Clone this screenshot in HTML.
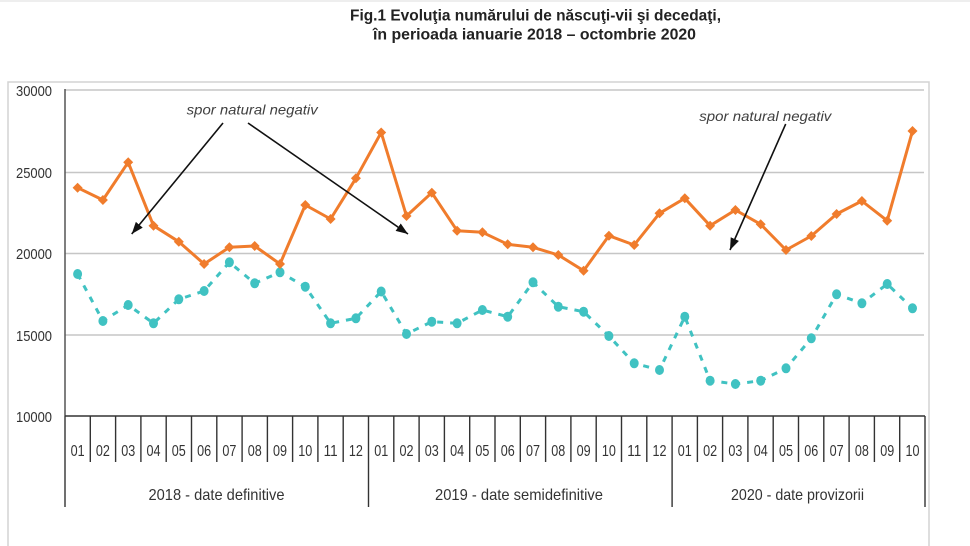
<!DOCTYPE html>
<html><head><meta charset="utf-8"><style>
html,body{margin:0;padding:0;background:#fff;width:970px;height:546px;overflow:hidden;}
svg{display:block;}
text{font-family:"Liberation Sans",sans-serif;}
</style></head><body>
<svg width="970" height="546" viewBox="0 0 970 546" xmlns="http://www.w3.org/2000/svg">
<defs>
<marker id="dia" markerUnits="userSpaceOnUse" markerWidth="12" markerHeight="12" refX="6" refY="6" orient="0">
<path d="M6,1 L11,6 L6,11 L1,6 Z" fill="#F07C2C"/>
</marker>
<marker id="dot" markerUnits="userSpaceOnUse" markerWidth="12" markerHeight="12" refX="6" refY="6" orient="0">
<ellipse cx="6" cy="6" rx="4.5" ry="5" fill="#40C2C2"/>
</marker>
<marker id="arr" markerUnits="userSpaceOnUse" markerWidth="14" markerHeight="10" refX="12" refY="4.5" orient="auto">
<path d="M0,0 L12,4.5 L0,9 Z" fill="#111"/>
</marker>
</defs>
<rect x="0" y="0" width="970" height="2" fill="#eeeeee"/>
<!-- outer frame -->
<path d="M8,546 L8,82 L929,82 L929,546" fill="none" stroke="#d4d4d4" stroke-width="1.5"/>
<!-- title -->
<text x="535.5" y="20.5" text-anchor="middle" font-size="16" font-weight="bold" fill="#222" textLength="371" lengthAdjust="spacingAndGlyphs">Fig.1 Evoluţia numărului de născuţi-vii şi decedaţi,</text>
<text x="534.5" y="39.5" text-anchor="middle" font-size="16" font-weight="bold" fill="#222" textLength="323" lengthAdjust="spacingAndGlyphs">în perioada ianuarie 2018 – octombrie 2020</text>
<!-- gridlines -->
<g stroke="#c6c6c6" stroke-width="1.4">
<line x1="65" y1="90" x2="924" y2="90"/>
<line x1="65" y1="172.5" x2="924" y2="172.5"/>
<line x1="65" y1="253.5" x2="924" y2="253.5"/>
<line x1="65" y1="335" x2="924" y2="335"/>
</g>
<!-- y axis labels -->
<g font-size="15" fill="#333" text-anchor="end">
<text x="52" y="96" textLength="36" lengthAdjust="spacingAndGlyphs">30000</text>
<text x="52" y="178" textLength="36" lengthAdjust="spacingAndGlyphs">25000</text>
<text x="52" y="259" textLength="36" lengthAdjust="spacingAndGlyphs">20000</text>
<text x="52" y="341" textLength="36" lengthAdjust="spacingAndGlyphs">15000</text>
<text x="52" y="422" textLength="36" lengthAdjust="spacingAndGlyphs">10000</text>
</g>
<!-- axes -->
<line x1="65" y1="89" x2="65" y2="416" stroke="#555" stroke-width="1.5"/>
<line x1="65" y1="416" x2="925" y2="416" stroke="#333" stroke-width="1.6"/>
<!-- month separators -->
<g stroke="#333" stroke-width="1.4">
<line x1="65" y1="416" x2="65" y2="507"/>
<line x1="90.3" y1="416" x2="90.3" y2="462"/>
<line x1="115.6" y1="416" x2="115.6" y2="462"/>
<line x1="140.9" y1="416" x2="140.9" y2="462"/>
<line x1="166.2" y1="416" x2="166.2" y2="462"/>
<line x1="191.5" y1="416" x2="191.5" y2="462"/>
<line x1="216.8" y1="416" x2="216.8" y2="462"/>
<line x1="242.1" y1="416" x2="242.1" y2="462"/>
<line x1="267.4" y1="416" x2="267.4" y2="462"/>
<line x1="292.6" y1="416" x2="292.6" y2="462"/>
<line x1="317.9" y1="416" x2="317.9" y2="462"/>
<line x1="343.2" y1="416" x2="343.2" y2="462"/>
<line x1="368.5" y1="416" x2="368.5" y2="507"/>
<line x1="393.8" y1="416" x2="393.8" y2="462"/>
<line x1="419.1" y1="416" x2="419.1" y2="462"/>
<line x1="444.4" y1="416" x2="444.4" y2="462"/>
<line x1="469.7" y1="416" x2="469.7" y2="462"/>
<line x1="495.0" y1="416" x2="495.0" y2="462"/>
<line x1="520.3" y1="416" x2="520.3" y2="462"/>
<line x1="545.6" y1="416" x2="545.6" y2="462"/>
<line x1="570.9" y1="416" x2="570.9" y2="462"/>
<line x1="596.2" y1="416" x2="596.2" y2="462"/>
<line x1="621.5" y1="416" x2="621.5" y2="462"/>
<line x1="646.8" y1="416" x2="646.8" y2="462"/>
<line x1="672.1" y1="416" x2="672.1" y2="507"/>
<line x1="697.4" y1="416" x2="697.4" y2="462"/>
<line x1="722.6" y1="416" x2="722.6" y2="462"/>
<line x1="747.9" y1="416" x2="747.9" y2="462"/>
<line x1="773.2" y1="416" x2="773.2" y2="462"/>
<line x1="798.5" y1="416" x2="798.5" y2="462"/>
<line x1="823.8" y1="416" x2="823.8" y2="462"/>
<line x1="849.1" y1="416" x2="849.1" y2="462"/>
<line x1="874.4" y1="416" x2="874.4" y2="462"/>
<line x1="899.7" y1="416" x2="899.7" y2="462"/>
<line x1="925" y1="416" x2="925" y2="507"/>
</g>
<!-- month labels -->
<g font-size="16" fill="#333" text-anchor="middle">
<text x="77.6" y="456" textLength="14" lengthAdjust="spacingAndGlyphs">01</text>
<text x="102.9" y="456" textLength="14" lengthAdjust="spacingAndGlyphs">02</text>
<text x="128.2" y="456" textLength="14" lengthAdjust="spacingAndGlyphs">03</text>
<text x="153.5" y="456" textLength="14" lengthAdjust="spacingAndGlyphs">04</text>
<text x="178.8" y="456" textLength="14" lengthAdjust="spacingAndGlyphs">05</text>
<text x="204.1" y="456" textLength="14" lengthAdjust="spacingAndGlyphs">06</text>
<text x="229.4" y="456" textLength="14" lengthAdjust="spacingAndGlyphs">07</text>
<text x="254.7" y="456" textLength="14" lengthAdjust="spacingAndGlyphs">08</text>
<text x="280.0" y="456" textLength="14" lengthAdjust="spacingAndGlyphs">09</text>
<text x="305.3" y="456" textLength="14" lengthAdjust="spacingAndGlyphs">10</text>
<text x="330.6" y="456" textLength="14" lengthAdjust="spacingAndGlyphs">11</text>
<text x="355.9" y="456" textLength="14" lengthAdjust="spacingAndGlyphs">12</text>
<text x="381.2" y="456" textLength="14" lengthAdjust="spacingAndGlyphs">01</text>
<text x="406.5" y="456" textLength="14" lengthAdjust="spacingAndGlyphs">02</text>
<text x="431.8" y="456" textLength="14" lengthAdjust="spacingAndGlyphs">03</text>
<text x="457.1" y="456" textLength="14" lengthAdjust="spacingAndGlyphs">04</text>
<text x="482.4" y="456" textLength="14" lengthAdjust="spacingAndGlyphs">05</text>
<text x="507.7" y="456" textLength="14" lengthAdjust="spacingAndGlyphs">06</text>
<text x="533.0" y="456" textLength="14" lengthAdjust="spacingAndGlyphs">07</text>
<text x="558.3" y="456" textLength="14" lengthAdjust="spacingAndGlyphs">08</text>
<text x="583.6" y="456" textLength="14" lengthAdjust="spacingAndGlyphs">09</text>
<text x="608.9" y="456" textLength="14" lengthAdjust="spacingAndGlyphs">10</text>
<text x="634.2" y="456" textLength="14" lengthAdjust="spacingAndGlyphs">11</text>
<text x="659.5" y="456" textLength="14" lengthAdjust="spacingAndGlyphs">12</text>
<text x="684.8" y="456" textLength="14" lengthAdjust="spacingAndGlyphs">01</text>
<text x="710.1" y="456" textLength="14" lengthAdjust="spacingAndGlyphs">02</text>
<text x="735.4" y="456" textLength="14" lengthAdjust="spacingAndGlyphs">03</text>
<text x="760.7" y="456" textLength="14" lengthAdjust="spacingAndGlyphs">04</text>
<text x="786.0" y="456" textLength="14" lengthAdjust="spacingAndGlyphs">05</text>
<text x="811.3" y="456" textLength="14" lengthAdjust="spacingAndGlyphs">06</text>
<text x="836.6" y="456" textLength="14" lengthAdjust="spacingAndGlyphs">07</text>
<text x="861.9" y="456" textLength="14" lengthAdjust="spacingAndGlyphs">08</text>
<text x="887.2" y="456" textLength="14" lengthAdjust="spacingAndGlyphs">09</text>
<text x="912.5" y="456" textLength="14" lengthAdjust="spacingAndGlyphs">10</text>
</g>
<!-- year labels -->
<g font-size="16" fill="#333" text-anchor="middle">
<text x="216.5" y="500" textLength="136" lengthAdjust="spacingAndGlyphs">2018 - date definitive</text>
<text x="519" y="500" textLength="168" lengthAdjust="spacingAndGlyphs">2019 - date semidefinitive</text>
<text x="797.5" y="500" textLength="133" lengthAdjust="spacingAndGlyphs">2020 - date provizorii</text>
</g>
<!-- teal series -->
<polyline fill="none" stroke="#40C2C2" stroke-width="3" stroke-dasharray="6,7" marker-start="url(#dot)" marker-mid="url(#dot)" marker-end="url(#dot)"
points="77.6,274 102.9,321 128.2,305 153.5,323.3 178.8,299.3 204.1,291 229.4,262.3 254.7,283.3 280.0,272.3 305.3,286.7 330.6,323.3 355.9,318.3 381.2,291.5 406.5,334 431.8,321.7 457.1,323.3 482.4,310 507.7,316.7 533.0,282.3 558.3,306.7 583.6,311.7 608.9,336 634.2,363.3 659.5,370 684.8,316.7 710.1,380.7 735.4,384 760.7,380.7 786.0,368.3 811.3,338.3 836.6,294.3 861.9,303.3 887.2,284 912.5,308.3"/>
<!-- orange series -->
<polyline fill="none" stroke="#F07C2C" stroke-width="3" stroke-linejoin="round" marker-start="url(#dia)" marker-mid="url(#dia)" marker-end="url(#dia)"
points="77.6,187.7 102.9,200 128.2,162.3 153.5,225.7 178.8,241.7 204.1,264 229.4,247.3 254.7,246 280.0,264 305.3,205 330.6,219 355.9,178.3 381.2,132.5 406.5,216 431.8,192.7 457.1,230.7 482.4,232.3 507.7,244.3 533.0,247.3 558.3,255 583.6,270.7 608.9,235.7 634.2,245 659.5,213.3 684.8,198.3 710.1,225.7 735.4,210 760.7,224.3 786.0,250 811.3,236 836.6,214 861.9,201 887.2,220.7 912.5,131"/>
<!-- annotations -->
<g font-size="14" font-style="italic" fill="#404040">
<text x="186.7" y="114.5" textLength="131" lengthAdjust="spacingAndGlyphs">spor natural negativ</text>
<text x="699.3" y="121" textLength="132" lengthAdjust="spacingAndGlyphs">spor natural negativ</text>
</g>
<g stroke="#111" stroke-width="1.6">
<line x1="223" y1="123" x2="131.7" y2="234" marker-end="url(#arr)"/>
<line x1="248" y1="123" x2="408" y2="234" marker-end="url(#arr)"/>
<line x1="785.7" y1="124" x2="730" y2="250" marker-end="url(#arr)"/>
</g>
</svg>
</body></html>
